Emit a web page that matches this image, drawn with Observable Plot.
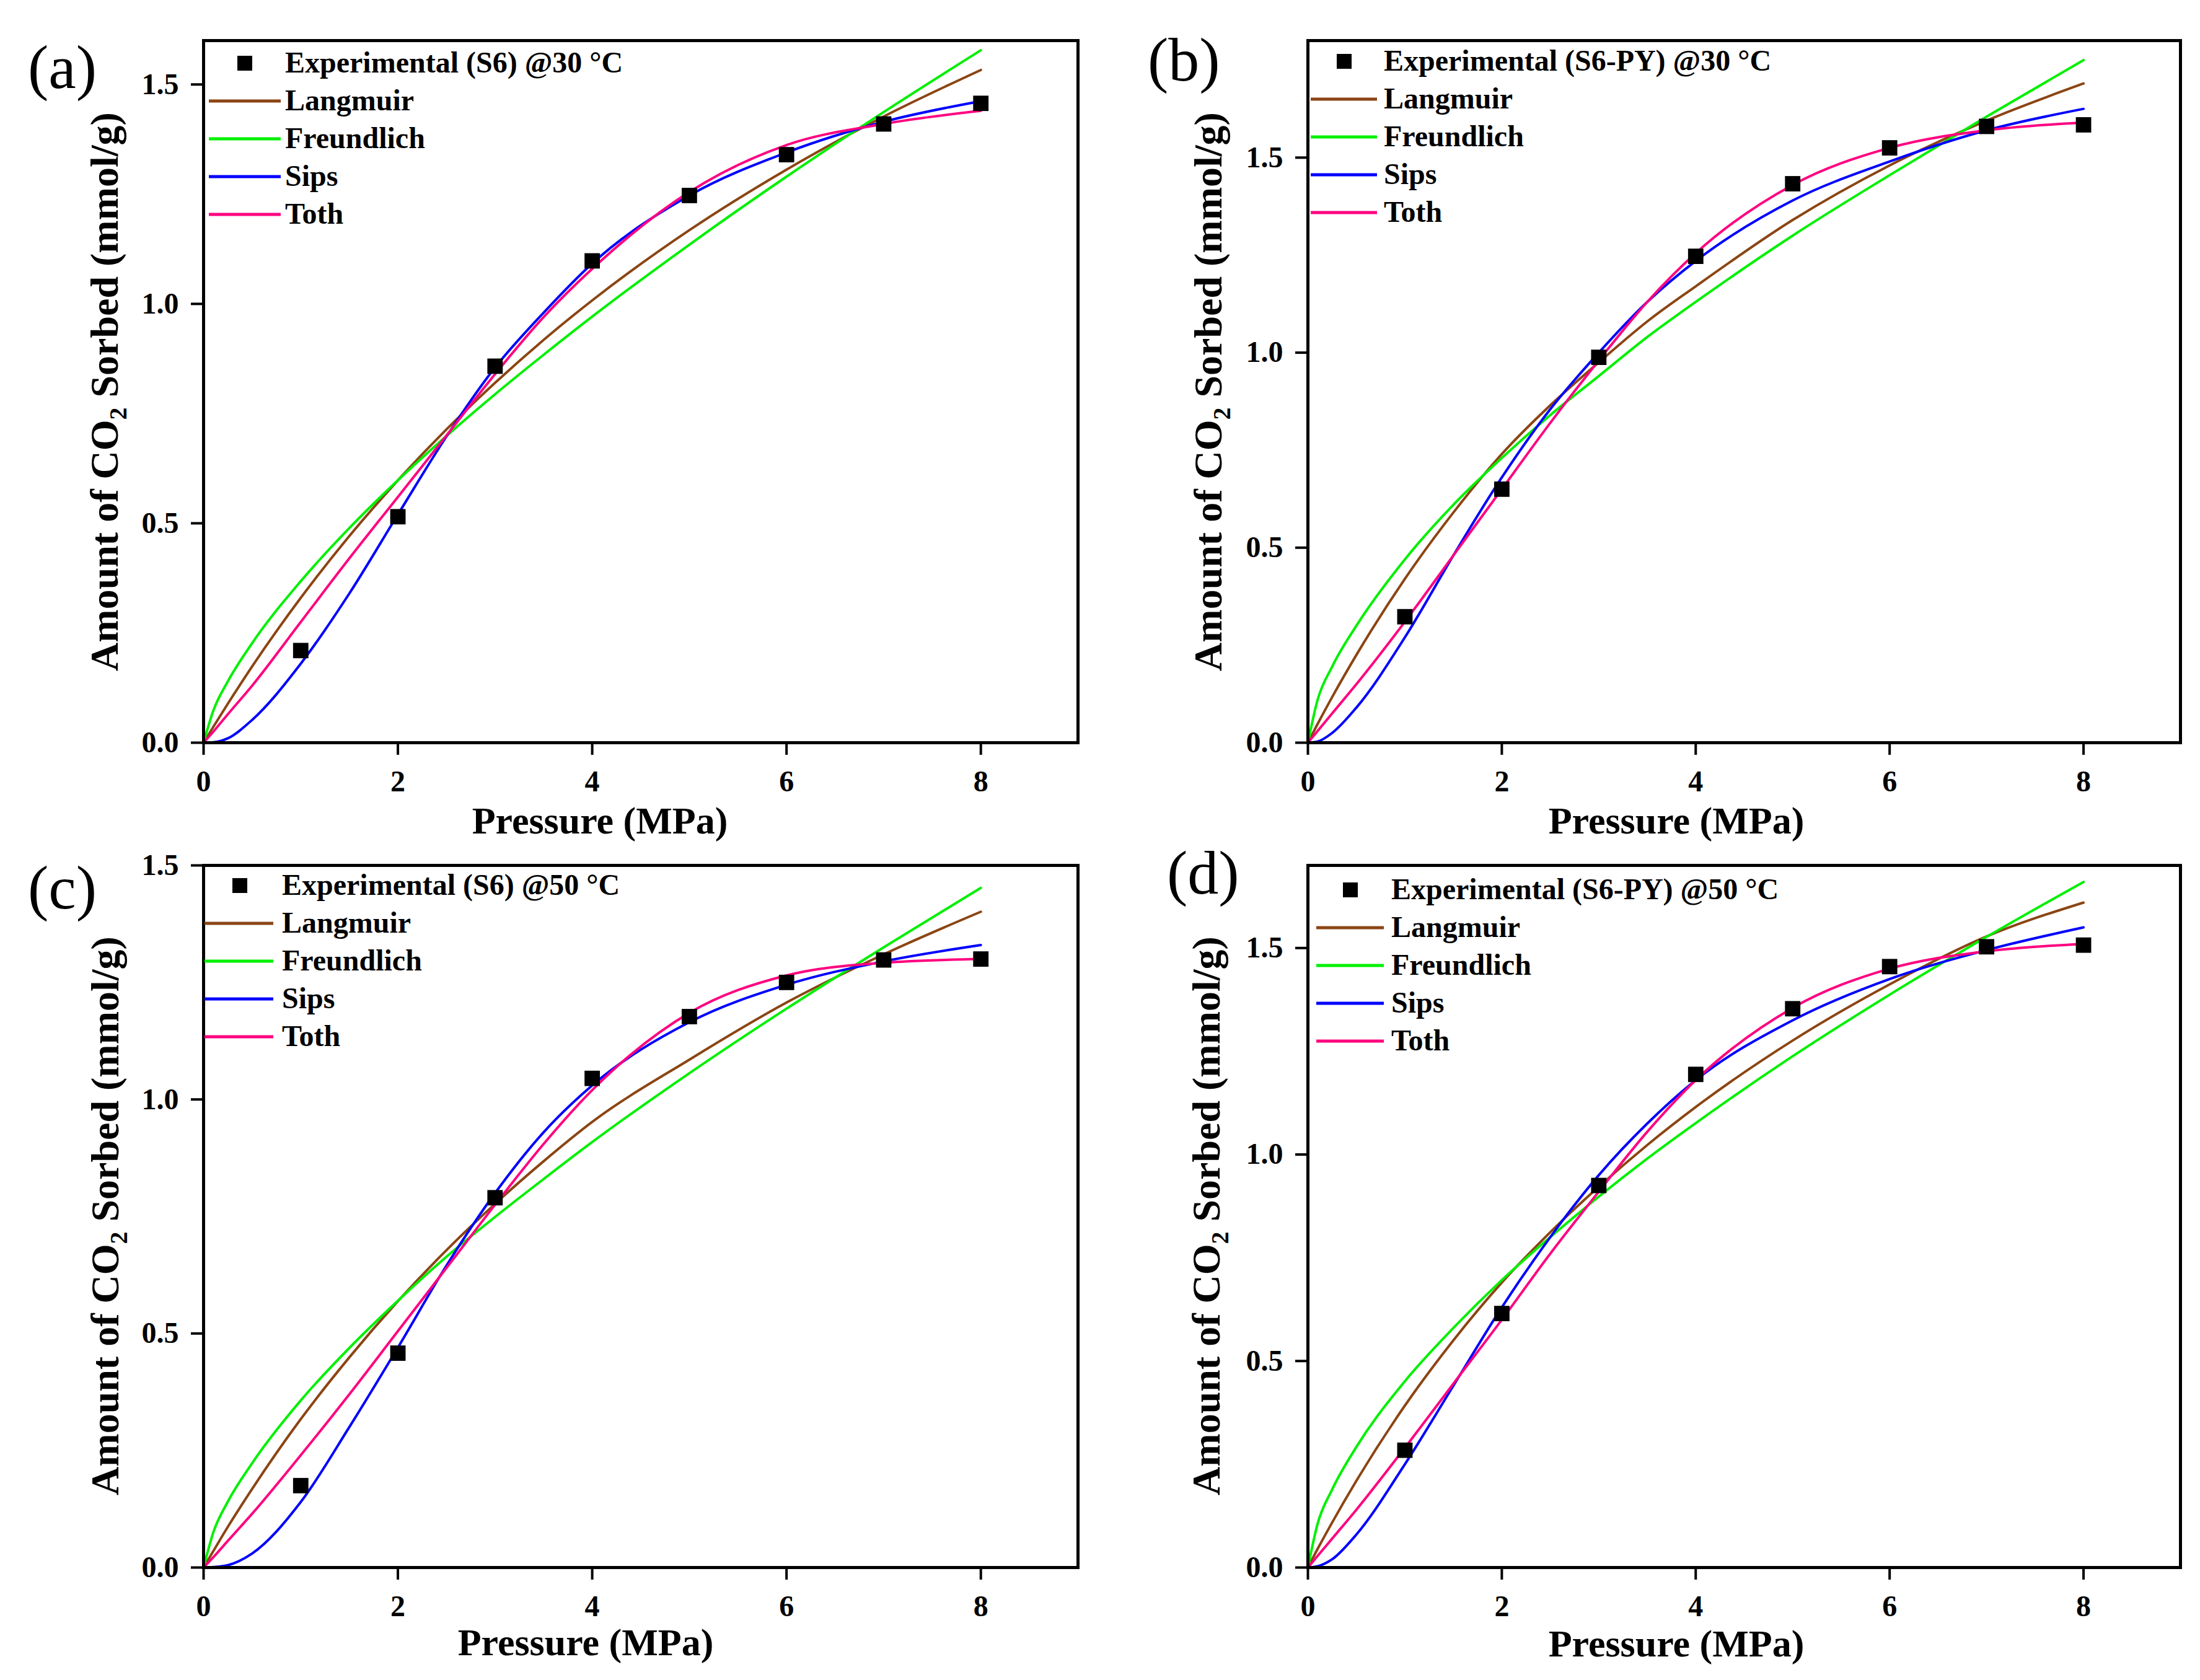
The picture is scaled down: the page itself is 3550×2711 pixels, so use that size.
<!DOCTYPE html>
<html>
<head>
<meta charset="utf-8">
<script src="https://cdn.jsdelivr.net/npm/d3@7"></script>
<script src="https://cdn.jsdelivr.net/npm/@observablehq/plot@0.6"></script>
<style>
  html, body { margin: 0; padding: 0; background: #fff; }
  #root { position: relative; width: 3550px; height: 2711px; overflow: hidden; background: #fff;
          font-family: "Liberation Serif", "Times New Roman", serif; }
  .panel { position: absolute; }
  #overlay { position: absolute; left: 0; top: 0; pointer-events: none; }
</style>
</head>
<body>
<div id="root"></div>
<script>
// ---------------- data ----------------
const models = ["Langmuir", "Freundlich", "Sips", "Toth"];
const modelColors = ["#8B4513", "#00F000", "#0000FF", "#FF0080"];

const xTicks = [0, 2, 4, 6, 8];
const yTicks = [0, 0.5, 1.0, 1.5];

const pressureExp = [1, 2, 3, 4, 5, 6, 7, 8];
const expA = [0.210, 0.515, 0.858, 1.098, 1.247, 1.340, 1.410, 1.457];
const expB = [0.323, 0.650, 0.988, 1.247, 1.433, 1.525, 1.580, 1.584];
const expC = [0.175, 0.458, 0.790, 1.045, 1.177, 1.250, 1.298, 1.300];
const expD = [0.284, 0.615, 0.925, 1.194, 1.353, 1.455, 1.503, 1.507];

const pressureFit = [0, 0.1, 0.25, 0.5, 1, 1.5, 2, 2.5, 3, 3.5, 4, 5, 6, 7, 8];

// (a) S6 @30 °C
const langmuirA   = [0, 0.036, 0.089, 0.174, 0.330, 0.471, 0.598, 0.714, 0.820, 0.918, 1.008, 1.168, 1.306, 1.427, 1.533];
const freundlichA = [0, 0.073, 0.140, 0.227, 0.368, 0.489, 0.598, 0.699, 0.794, 0.884, 0.971, 1.135, 1.290, 1.437, 1.578];
const sipsA       = [0, 0.001, 0.010, 0.052, 0.180, 0.340, 0.520, 0.698, 0.855, 0.980, 1.092, 1.247, 1.345, 1.415, 1.462];
const tothA       = [0, 0.025, 0.065, 0.130, 0.275, 0.420, 0.560, 0.700, 0.840, 0.970, 1.080, 1.255, 1.362, 1.410, 1.440];

// (b) S6-PY @30 °C
const langmuirB   = [0, 0.048, 0.117, 0.225, 0.420, 0.590, 0.740, 0.865, 0.975, 1.080, 1.170, 1.340, 1.480, 1.595, 1.690];
const freundlichB = [0, 0.110, 0.195, 0.300, 0.470, 0.610, 0.730, 0.840, 0.940, 1.040, 1.130, 1.300, 1.455, 1.605, 1.750];
const sipsB       = [0, 0.003, 0.025, 0.090, 0.270, 0.480, 0.680, 0.855, 1.000, 1.130, 1.235, 1.390, 1.490, 1.570, 1.625];
const tothB       = [0, 0.030, 0.075, 0.150, 0.310, 0.480, 0.650, 0.820, 0.980, 1.130, 1.255, 1.430, 1.525, 1.570, 1.590];

// (c) S6 @50 °C
const langmuirC   = [0, 0.035, 0.087, 0.168, 0.317, 0.449, 0.569, 0.678, 0.777, 0.868, 0.952, 1.085, 1.207, 1.310, 1.401];
const freundlichC = [0, 0.075, 0.141, 0.223, 0.357, 0.469, 0.570, 0.664, 0.749, 0.830, 0.909, 1.056, 1.194, 1.325, 1.452];
const sipsC       = [0, 0.001, 0.005, 0.030, 0.140, 0.300, 0.470, 0.645, 0.800, 0.930, 1.030, 1.165, 1.245, 1.295, 1.330];
const tothC       = [0, 0.022, 0.057, 0.115, 0.240, 0.370, 0.505, 0.640, 0.775, 0.905, 1.020, 1.185, 1.265, 1.292, 1.300];

// (d) S6-PY @50 °C
const langmuirD   = [0, 0.045, 0.109, 0.210, 0.392, 0.550, 0.690, 0.812, 0.922, 1.023, 1.115, 1.276, 1.412, 1.528, 1.610];
const freundlichD = [0, 0.106, 0.189, 0.292, 0.451, 0.580, 0.696, 0.800, 0.898, 0.990, 1.076, 1.238, 1.387, 1.527, 1.660];
const sipsD       = [0, 0.003, 0.020, 0.080, 0.250, 0.440, 0.630, 0.800, 0.950, 1.075, 1.180, 1.325, 1.425, 1.495, 1.550];
const tothD       = [0, 0.028, 0.070, 0.140, 0.290, 0.445, 0.600, 0.760, 0.910, 1.055, 1.180, 1.355, 1.450, 1.492, 1.510];

const panelLetters = ["(a)", "(b)", "(c)", "(d)"];
const expLabels = ["Experimental (S6) @30 °C", "Experimental (S6-PY) @30 °C",
                   "Experimental (S6) @50 °C", "Experimental (S6-PY) @50 °C"];
const yMaxes = [1.6, 1.8, 1.5, 1.7];
const xTitle = "Pressure (MPa)";

// ---------------- layout ----------------
const W = 3550, H = 2711;
const layout = [
  {left: 0,    top: 0,    w: 1775, h: 1340, ml: 328, mr: 36, mt: 65, mb: 142,
   label: [45, 142], xt: [968, 1345], yt: [190, 632],
   leg: {sw0: 9, sw1: 125, mk: 67, tx: 132, base: 52}},
  {left: 1775, top: 0,    w: 1775, h: 1340, ml: 335, mr: 32, mt: 65, mb: 142,
   label: [1852, 130], xt: [2705, 1345], yt: [1971, 632],
   leg: {sw0: 5, sw1: 112, mk: 59, tx: 123, base: 49}},
  {left: 0,    top: 1340, w: 1775, h: 1371, ml: 328, mr: 36, mt: 56, mb: 182,
   label: [45, 1466], xt: [945, 2671], yt: [191, 1962],
   leg: {sw0: 2, sw1: 113, mk: 59, tx: 127, base: 48}},
  {left: 1775, top: 1340, w: 1775, h: 1371, ml: 335, mr: 32, mt: 56, mb: 182,
   label: [1883, 1442], xt: [2705, 2673], yt: [1968, 1962],
   leg: {sw0: 14, sw1: 123, mk: 69, tx: 135, base: 55}}
];

const expSets = [expA, expB, expC, expD];
const fitSets = [
  [langmuirA, freundlichA, sipsA, tothA],
  [langmuirB, freundlichB, sipsB, tothB],
  [langmuirC, freundlichC, sipsC, tothC],
  [langmuirD, freundlichD, sipsD, tothD]
];

const root = document.getElementById("root");
const fmt = d3.format(".1f");

layout.forEach((L, i) => {
  const expRows = pressureExp.map((p, k) => ({p, q: expSets[i][k]}));
  const fitRows = [];
  models.forEach((m, j) => {
    pressureFit.forEach((p, k) => fitRows.push({model: m, p, q: fitSets[i][j][k]}));
  });
  const chart = Plot.plot({
    width: L.w, height: L.h,
    marginLeft: L.ml, marginRight: L.mr, marginTop: L.mt, marginBottom: L.mb,
    style: {fontFamily: '"Liberation Serif", "Times New Roman", serif', fontSize: "48px",
            fontWeight: "bold", color: "#000", background: "transparent", overflow: "visible"},
    x: {domain: [0, 9]},
    y: {domain: [0, yMaxes[i]]},
    color: {domain: models, range: modelColors},
    marks: [
      Plot.axisX({ticks: xTicks, tickSize: 20, tickPadding: 24, strokeWidth: 4,
                  label: null, tickFormat: d => String(d)}),
      Plot.axisY({ticks: yTicks.filter(t => t <= yMaxes[i] + 1e-9), tickSize: 20, tickPadding: 20,
                  strokeWidth: 4, label: null, tickFormat: fmt}),
      Plot.line(fitRows, {x: "p", y: "q", z: "model", stroke: "model",
                          curve: "monotone-x", strokeWidth: 4}),
      Plot.dot(expRows, {x: "p", y: "q", symbol: "square", r: 14, fill: "#000", stroke: "none"}),
      Plot.frame({stroke: "#000", strokeWidth: 5})
    ]
  });
  const div = document.createElement("div");
  div.className = "panel";
  div.style.left = L.left + "px";
  div.style.top = L.top + "px";
  div.appendChild(chart);
  root.appendChild(div);
});

// ---------------- overlay text: titles, panel letters, legends ----------------
const svg = d3.select(root).append("svg")
  .attr("id", "overlay").attr("width", W).attr("height", H)
  .attr("viewBox", `0 0 ${W} ${H}`)
  .style("font-family", '"Liberation Serif", "Times New Roman", serif');

layout.forEach((L, i) => {
  const fx = L.left + L.ml, fy = L.top + L.mt;
  // panel letter
  svg.append("text").attr("x", L.label[0]).attr("y", L.label[1])
    .attr("font-size", 100).attr("font-weight", "normal").text(panelLetters[i]);
  // x title
  svg.append("text").attr("x", L.xt[0]).attr("y", L.xt[1])
    .attr("text-anchor", "middle").attr("font-size", 62).attr("font-weight", "bold").text(xTitle);
  // y title
  const yt = svg.append("text")
    .attr("transform", `translate(${L.yt[0]},${L.yt[1]}) rotate(-90)`)
    .attr("text-anchor", "middle").attr("font-size", 64).attr("font-weight", "bold");
  yt.append("tspan").text("Amount of CO");
  yt.append("tspan").attr("font-size", 40).attr("dy", 14).text("2");
  yt.append("tspan").attr("dy", -14).text(" Sorbed (mmol/g)");
  // legend
  const g = L.leg;
  const rowH = 61;
  const b0 = fy + g.base;
  svg.append("rect").attr("x", fx + g.mk - 12).attr("y", b0 - 15 - 12)
    .attr("width", 24).attr("height", 24).attr("fill", "#000");
  svg.append("text").attr("x", fx + g.tx).attr("y", b0)
    .attr("font-size", 48).attr("font-weight", "bold").text(expLabels[i]);
  models.forEach((m, j) => {
    const b = b0 + rowH * (j + 1);
    svg.append("line").attr("x1", fx + g.sw0).attr("x2", fx + g.sw1)
      .attr("y1", b - 15).attr("y2", b - 15)
      .attr("stroke", modelColors[j]).attr("stroke-width", 5);
    svg.append("text").attr("x", fx + g.tx).attr("y", b)
      .attr("font-size", 48).attr("font-weight", "bold").text(m);
  });
});
</script>
</body>
</html>
